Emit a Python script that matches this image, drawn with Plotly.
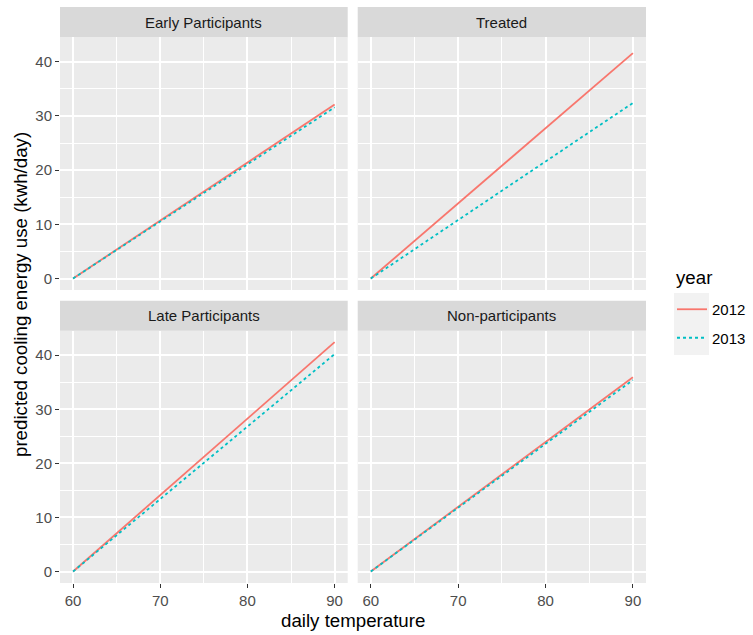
import plotly.graph_objects as go

# ---- data ----
temperature = [60, 90]
groups = ["Early Participants", "Treated", "Late Participants", "Non-participants"]
use_2012 = [[0, 32.1], [0, 41.6], [0, 42.4], [0, 35.9]]
use_2013 = [[0, 31.6], [0, 32.4], [0, 40.2], [0, 35.4]]
years = ["2012", "2013"]
x_ticks = [60, 70, 80, 90]
y_ticks = [0, 10, 20, 30, 40]

W, H = 753, 635
ML, MR, MT, MB = 60, 107, 7, 52
PW = W - ML - MR
PH = H - MT - MB

def px_x(p):
    return (p - ML) / PW

def px_y(p):
    return (H - MB - p) / PH

col_dom = [[0, px_x(347.7)], [px_x(357.7), 1]]
row_dom = [[px_y(290), px_y(37.3)], [0, px_y(330.7)]]
strip_dom = [[px_y(37.3), 1.0], [px_y(330.7), px_y(300.7)]]

FONT = "Liberation Sans, Arial, Helvetica, sans-serif"
SMALL = 15
BIG = 18.7
colors = {"2012": "#F8766D", "2013": "#00BFC4"}
dashes = {"2012": "solid", "2013": "3px,3px"}

fig = go.Figure()
shapes = []
annotations = []
layout = {}

xr = [58.5, 91.5]
yr = [-2.12, 44.52]

for i, g in enumerate(groups):
    r, c = divmod(i, 2)
    n = i + 1
    xa = "x" if n == 1 else f"x{n}"
    ya = "y" if n == 1 else f"y{n}"
    for yr_name, vals in (("2012", use_2012[i]), ("2013", use_2013[i])):
        fig.add_trace(go.Scatter(
            x=temperature, y=vals, mode="lines",
            line=dict(color=colors[yr_name], width=1.8, dash=dashes[yr_name]),
            name=yr_name, legendgroup=yr_name, showlegend=(i == 0),
            xaxis=xa, yaxis=ya, hoverinfo="skip"))
    common = dict(
        showgrid=True, gridcolor="white", gridwidth=1.5, zeroline=False,
        showline=False, tickfont=dict(size=SMALL, color="#4D4D4D", family=FONT),
        tickcolor="#333333", tickwidth=1.1,
        minor=dict(showgrid=True, gridcolor="white", gridwidth=0.7, ticks=""),
    )
    xkey = "xaxis" if n == 1 else f"xaxis{n}"
    ykey = "yaxis" if n == 1 else f"yaxis{n}"
    layout[xkey] = dict(common, domain=col_dom[c], anchor=ya, range=xr,
                        tickvals=x_ticks, showticklabels=(r == 1),
                        ticks="outside" if r == 1 else "", ticklen=4,
                        minor=dict(common["minor"], tickvals=[65, 75, 85]))
    layout[ykey] = dict(common, domain=row_dom[r], anchor=xa, range=yr,
                        tickvals=y_ticks, showticklabels=(c == 0),
                        ticks="outside" if c == 0 else "", ticklen=4,
                        minor=dict(common["minor"], tickvals=[5, 15, 25, 35]))
    shapes.append(dict(type="rect", xref="paper", yref="paper",
                       x0=col_dom[c][0], x1=col_dom[c][1],
                       y0=strip_dom[r][0], y1=strip_dom[r][1],
                       fillcolor="#D9D9D9", line=dict(width=0), layer="below"))
    annotations.append(dict(text=g, xref="paper", yref="paper",
                            x=(col_dom[c][0] + col_dom[c][1]) / 2,
                            y=(strip_dom[r][0] + strip_dom[r][1]) / 2,
                            showarrow=False, xanchor="center", yanchor="middle",
                            font=dict(size=SMALL, color="#1A1A1A", family=FONT)))

# legend key backgrounds (ggplot style)
for k in range(2):
    shapes.append(dict(type="rect", xref="paper", yref="paper",
                       x0=px_x(674), x1=px_x(709),
                       y0=px_y(293 + 31 * (k + 1)), y1=px_y(293 + 31 * k),
                       fillcolor="#F2F2F2", line=dict(width=0), layer="above"))

annotations.append(dict(text="year", xref="paper", yref="paper",
                        x=px_x(674), y=px_y(277), showarrow=False,
                        xanchor="left", yanchor="middle",
                        font=dict(size=BIG, color="black", family=FONT)))
annotations.append(dict(text="daily temperature", xref="paper", yref="paper",
                        x=0.5, y=px_y(620), showarrow=False,
                        xanchor="center", yanchor="middle",
                        font=dict(size=BIG, color="black", family=FONT)))
annotations.append(dict(text="predicted cooling energy use (kwh/day)",
                        xref="paper", yref="paper", x=px_x(20), y=px_y(295),
                        showarrow=False, textangle=-90,
                        xanchor="center", yanchor="middle",
                        font=dict(size=BIG, color="black", family=FONT)))

fig.update_layout(
    **layout,
    width=W, height=H,
    margin=dict(l=ML, r=MR, t=MT, b=MB, autoexpand=False),
    paper_bgcolor="white", plot_bgcolor="#EBEBEB",
    shapes=shapes, annotations=annotations,
    showlegend=True,
    legend=dict(font=dict(size=SMALL, color="black", family=FONT),
                x=px_x(672), y=px_y(293), xanchor="left", yanchor="top",
                bgcolor="rgba(0,0,0,0)", tracegroupgap=6),
    font=dict(family=FONT),
)

fig.write_html("out.html")
